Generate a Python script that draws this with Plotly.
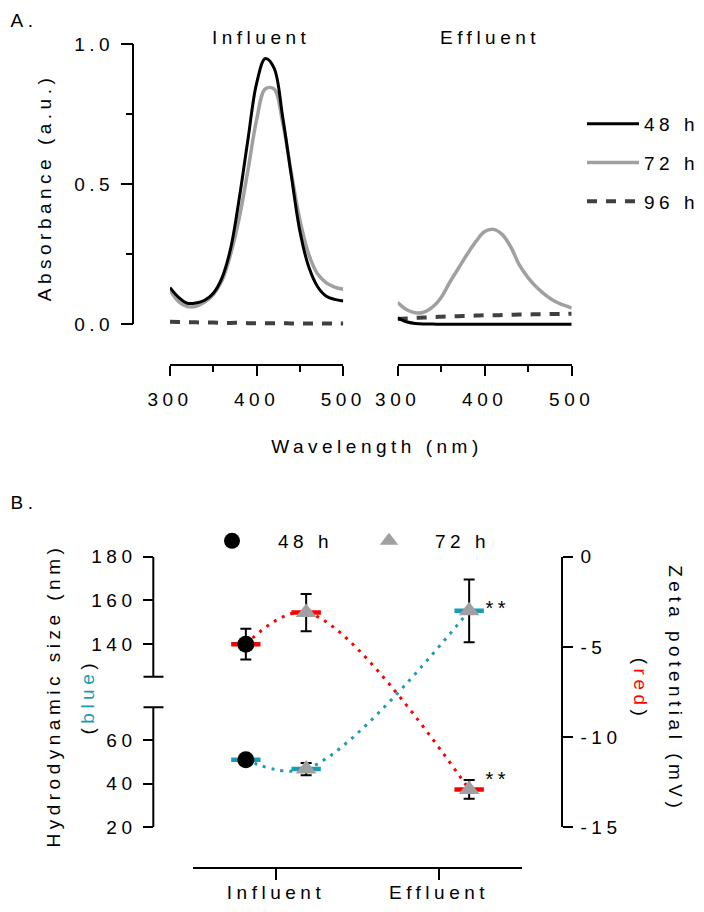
import plotly.graph_objects as go

W, H = 704, 912


def px(x):
    return x / W


def py(y):
    return 1 - y / H


# ---------------- Panel A data: UV-vis absorbance ----------------
wavelength = [300, 310, 320, 330, 340, 350, 360, 370, 380, 390, 400,
              410, 420, 430, 440, 450, 460, 470, 480, 490, 500]

influent_48h = [0.130, 0.095, 0.074, 0.075, 0.085, 0.110, 0.165, 0.270, 0.450, 0.660, 0.860,
                0.948, 0.915, 0.740, 0.530, 0.330, 0.205, 0.135, 0.100, 0.088, 0.082]
influent_72h = [0.120, 0.080, 0.062, 0.063, 0.078, 0.105, 0.155, 0.250, 0.380, 0.550, 0.730,
                0.840, 0.840, 0.720, 0.540, 0.370, 0.250, 0.180, 0.148, 0.132, 0.124]
influent_96h = [0.008, 0.007, 0.006, 0.006, 0.005, 0.005, 0.004, 0.004, 0.004, 0.003, 0.003,
                0.003, 0.003, 0.003, 0.002, 0.002, 0.002, 0.002, 0.002, 0.002, 0.002]

effluent_48h = [0.022, 0.008, 0.002, 0.000, 0.000, -0.001, -0.001, -0.001, -0.001, -0.001, -0.001,
                -0.001, -0.001, -0.001, -0.001, -0.001, -0.001, -0.001, -0.001, -0.001, -0.001]
effluent_72h = [0.077, 0.052, 0.040, 0.042, 0.060, 0.095, 0.150, 0.200, 0.250, 0.295, 0.330,
                0.338, 0.320, 0.275, 0.210, 0.165, 0.130, 0.103, 0.082, 0.068, 0.057]
effluent_96h = [0.018, 0.020, 0.022, 0.023, 0.025, 0.026, 0.027, 0.028, 0.029, 0.030, 0.031,
                0.031, 0.032, 0.033, 0.034, 0.034, 0.035, 0.035, 0.036, 0.036, 0.037]

abs_ticks = [0.0, 0.5, 1.0]
abs_minor = [0.25, 0.75]
wl_ticks = [300, 400, 500]
wl_minor = [350, 450]

# ---------------- Panel B data: size and zeta potential ----------------
sites = ["Influent", "Effluent"]
sites_48h = ["Influent"]
sites_72h = ["Influent", "Effluent"]

size_48h = [51.0]
size_48h_err = [1.5]
size_72h = [46.7, 155.2]
size_72h_err = [2.8, 14.4]

zeta_48h = [-4.85]
zeta_48h_err = [0.85]
zeta_72h = [-3.1, -12.9]
zeta_72h_err = [1.03, 0.52]

size_ticks = [20, 40, 60, 140, 160, 180]
zeta_ticks = [-15, -10, -5, 0]

BLACK = "#000000"
GREY = "#a0a0a2"
DARK = "#404040"
TEAL = "#1b9cb4"
RED = "#ff0000"

# broken size axis: lower part 20-75, upper part 125-180
BREAK_LO, BREAK_HI, GAP = 75, 125, 14


def disp(v):
    return v if v <= BREAK_LO else v - (BREAK_HI - BREAK_LO) + GAP


site_pos = {s: i + 1 for i, s in enumerate(sites)}
OFF = 0.185
x48 = [site_pos[s] - OFF for s in sites_48h]
x72 = [site_pos[s] + OFF for s in sites_72h]

fig = go.Figure()

# ---- Panel A traces ----
for xa, d48, d72, d96, show in [("x", influent_48h, influent_72h, influent_96h, True),
                                 ("x2", effluent_48h, effluent_72h, effluent_96h, False)]:
    fig.add_trace(go.Scatter(x=wavelength, y=d96, xaxis=xa, yaxis="y", mode="lines",
                             name="96 h", legendrank=3, showlegend=show, legend="legend",
                             legendgroup="g96",
                             line=dict(color=DARK, width=4, dash="10px,9px", shape="spline")))
    fig.add_trace(go.Scatter(x=wavelength, y=d72, xaxis=xa, yaxis="y", mode="lines",
                             name="72 h", legendrank=2, showlegend=show, legend="legend",
                             legendgroup="g72",
                             line=dict(color=GREY, width=3.5, shape="spline")))
    fig.add_trace(go.Scatter(x=wavelength, y=d48, xaxis=xa, yaxis="y", mode="lines",
                             name="48 h", legendrank=1, showlegend=show, legend="legend",
                             legendgroup="g48",
                             line=dict(color=BLACK, width=3, shape="spline")))

# ---- Panel B traces ----
all_x = x48 + x72
size_all = size_48h + size_72h
zeta_all = zeta_48h + zeta_72h
order = sorted(range(len(all_x)), key=lambda i: all_x[i])

fig.add_trace(go.Scatter(x=[all_x[i] for i in order], y=[disp(size_all[i]) for i in order],
                         xaxis="x3", yaxis="y2", mode="lines", showlegend=False,
                         line=dict(color=TEAL, width=3, dash="3px,6px", shape="spline")))
fig.add_trace(go.Scatter(x=all_x, y=[disp(v) for v in size_all], xaxis="x3", yaxis="y2",
                         mode="markers", showlegend=False,
                         marker=dict(symbol="line-ew", size=21, line=dict(color=TEAL, width=4.5))))
fig.add_trace(go.Scatter(x=x48, y=[disp(v) for v in size_48h], xaxis="x3", yaxis="y2",
                         mode="markers", showlegend=False,
                         error_y=dict(type="data", array=size_48h_err, color=BLACK,
                                      thickness=2, width=5.5),
                         marker=dict(symbol="circle", size=17, color=BLACK)))
fig.add_trace(go.Scatter(x=x72, y=[disp(v) for v in size_72h], xaxis="x3", yaxis="y2",
                         mode="markers", showlegend=False,
                         error_y=dict(type="data", array=size_72h_err, color=BLACK,
                                      thickness=2, width=5.5),
                         marker=dict(symbol="triangle-up", size=18, color=GREY)))

fig.add_trace(go.Scatter(x=[all_x[i] for i in order], y=[zeta_all[i] for i in order],
                         xaxis="x3", yaxis="y3", mode="lines", showlegend=False,
                         line=dict(color=RED, width=3, dash="3px,6px", shape="spline")))
fig.add_trace(go.Scatter(x=all_x, y=zeta_all, xaxis="x3", yaxis="y3",
                         mode="markers", showlegend=False,
                         marker=dict(symbol="line-ew", size=21, line=dict(color=RED, width=4.5))))
fig.add_trace(go.Scatter(x=x48, y=zeta_48h, xaxis="x3", yaxis="y3", mode="markers",
                         name="48 h", legend="legend2", legendrank=1,
                         error_y=dict(type="data", array=zeta_48h_err, color=BLACK,
                                      thickness=2, width=5.5),
                         marker=dict(symbol="circle", size=17, color=BLACK)))
fig.add_trace(go.Scatter(x=x72, y=zeta_72h, xaxis="x3", yaxis="y3", mode="markers",
                         name="72 h", legend="legend2", legendrank=2,
                         error_y=dict(type="data", array=zeta_72h_err, color=BLACK,
                                      thickness=2, width=5.5),
                         marker=dict(symbol="triangle-up", size=18, color=GREY)))

axis_common = dict(showgrid=False, zeroline=False, linecolor=BLACK, linewidth=2,
                   ticks="outside", tickcolor=BLACK, tickwidth=2, automargin=False)

wl_axis = dict(axis_common, range=[300, 500], anchor="free", position=py(365), showline=True,
               ticklen=10, tickvals=wl_ticks, ticklabelstandoff=7,
               minor=dict(tickvals=wl_minor, ticks="outside", ticklen=6, tickwidth=2,
                          tickcolor=BLACK))

ab_top, ab_bot = 44, 324
pad = 20 / (ab_bot - ab_top)

fig.update_layout(
    width=W, height=H, margin=dict(l=0, r=0, t=0, b=0, autoexpand=False),
    paper_bgcolor="white", plot_bgcolor="rgba(0,0,0,0)",
    font=dict(family="Liberation Sans, Arial, sans-serif", size=19, color=BLACK),
    xaxis=dict(wl_axis, domain=[px(170), px(343.3)]),
    xaxis2=dict(wl_axis, domain=[px(397.7), px(571.7)]),
    yaxis=dict(axis_common, domain=[py(ab_bot + 20), py(ab_top - 20)], range=[-pad, 1 + pad],
               anchor="free", position=px(133), showline=False, ticklen=12,
               ticklabelstandoff=3,
               tickvals=abs_ticks, ticktext=[f"{v:.1f}" for v in abs_ticks],
               minor=dict(tickvals=abs_minor, ticks="outside", ticklen=7, tickwidth=2,
                          tickcolor=BLACK)),
    xaxis3=dict(axis_common, domain=[px(193), px(521.7)], range=[0.4908, 2.5074],
                anchor="free", position=py(867.7), showline=True, ticklen=11,
                ticklabelstandoff=-4,
                tickvals=[site_pos[s] for s in sites], ticktext=sites),
    yaxis2=dict(axis_common, domain=[py(827.3), py(556.7)], range=[disp(20), disp(180)],
                anchor="free", position=px(153.3), showline=False, ticklen=10,
                ticklabelstandoff=3,
                tickvals=[disp(v) for v in size_ticks], ticktext=[str(v) for v in size_ticks]),
    yaxis3=dict(axis_common, overlaying="y2", side="right", range=[-15, 0],
                anchor="free", position=px(561.7), showline=True, ticklen=10,
                ticklabelstandoff=4,
                tickvals=zeta_ticks, ticktext=[str(v) for v in zeta_ticks]),
    legend=dict(x=px(582), y=py(105), xanchor="left", yanchor="top",
                bgcolor="rgba(0,0,0,0)", itemwidth=52, tracegroupgap=11,
                font=dict(size=19)),
    legend2=dict(x=px(186), y=py(522), xanchor="left", yanchor="top", orientation="h",
                 bgcolor="rgba(0,0,0,0)", itemwidth=82, entrywidth=60,
                 entrywidthmode="pixels", font=dict(size=19)),
    showlegend=True,
)

# axis lines (A y axis spans 0..1; B left axis is broken)
shapes = [
    dict(type="line", xref="paper", yref="y", x0=px(133), x1=px(133), y0=0, y1=1),
    dict(type="line", xref="paper", yref="y2", x0=px(153.3), x1=px(153.3),
         y0=disp(20), y1=disp(BREAK_LO)),
    dict(type="line", xref="paper", yref="y2", x0=px(153.3), x1=px(153.3),
         y0=disp(BREAK_HI), y1=disp(180)),
    dict(type="line", xref="paper", yref="y2", x0=px(143.5), x1=px(163.5),
         y0=disp(BREAK_LO), y1=disp(BREAK_LO)),
    dict(type="line", xref="paper", yref="y2", x0=px(143.5), x1=px(163.5),
         y0=disp(BREAK_HI), y1=disp(BREAK_HI)),
]
for s in shapes:
    s["line"] = dict(color=BLACK, width=2)
    fig.add_shape(s)


def note(text, x, y, xanchor="center", **kw):
    fig.add_annotation(text=text, x=px(x), y=py(y), xref="paper", yref="paper",
                       showarrow=False, xanchor=xanchor, yanchor="middle", **kw)


note("A.", 13, 21, xanchor="left")
note("B.", 13, 502, xanchor="left")
note("Influent", 261, 38)
note("Effluent", 490, 38)
note("Wavelength (nm)", 377, 447)
note("Absorbance (a.u.)", 45, 188, textangle=-90)
note("Hydrodynamic size (nm)", 53, 696, textangle=-90)
note(f"(<span style='color:{TEAL}'>blue</span>)", 87, 697, textangle=-90)
note("Zeta potential (mV)", 676, 689, textangle=90)
note(f"(<span style='color:{RED}'>red</span>)", 641, 689, textangle=90)

# significance marks next to the effluent 72 h points
fig.add_annotation(text="**", x=x72[1], y=disp(size_72h[1]), xref="x3", yref="y2",
                   showarrow=False, xshift=29, yshift=3, font=dict(size=20))
fig.add_annotation(text="**", x=x72[1], y=zeta_72h[1], xref="x3", yref="y3",
                   showarrow=False, xshift=29, yshift=10, font=dict(size=20))

post = """
document.documentElement.style.margin = '0';
document.body.style.margin = '0';
document.body.style.padding = '0';
var gd = document.getElementById('{plot_id}');
function spacing(){
  gd.querySelectorAll('text').forEach(function(t){ t.style.letterSpacing = '4.5px'; });
  gd.querySelectorAll('.legend .scrollbox').forEach(function(e){ e.removeAttribute('clip-path'); });
}
spacing(); setTimeout(spacing, 50); setTimeout(spacing, 300);
"""

fig.write_html("out.html", config={"staticPlot": True}, post_script=post)
